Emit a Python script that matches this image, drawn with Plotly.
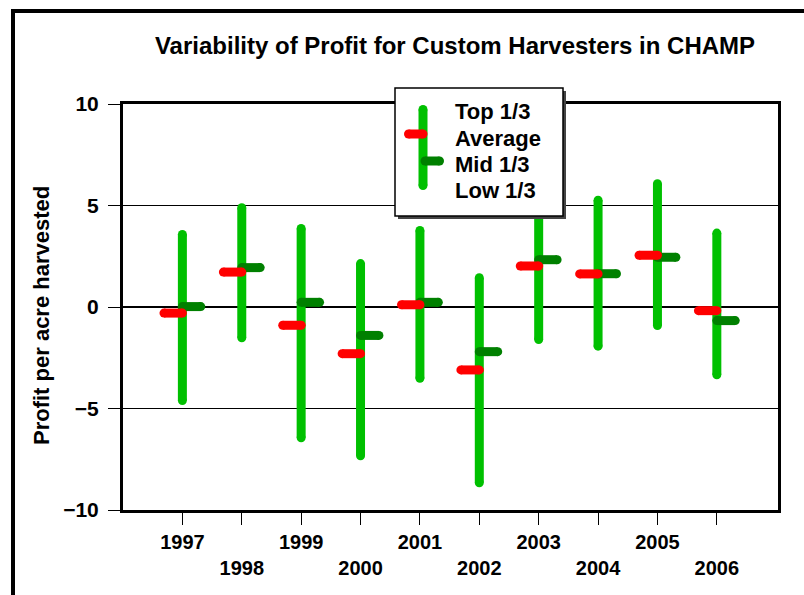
import plotly.graph_objects as go

# ---------------- data ----------------
years = [1997, 1998, 1999, 2000, 2001, 2002, 2003, 2004, 2005, 2006]
year_labels = ["1997", "1998", "1999", "2000", "2001", "2002", "2003", "2004", "2005", "2006"]
top_third = [3.57, 4.89, 3.87, 2.14, 3.77, 1.44, 5.80, 5.26, 6.07, 3.64]
low_third = [-4.61, -1.52, -6.44, -7.33, -3.51, -8.66, -1.60, -1.93, -0.91, -3.34]
average = [-0.30, 1.72, -0.90, -2.30, 0.11, -3.10, 2.02, 1.63, 2.55, -0.18]
mid_third = [0.02, 1.94, 0.23, -1.40, 0.23, -2.20, 2.33, 1.64, 2.45, -0.67]
y_ticks = [-10, -5, 0, 5, 10]
y_tick_labels = ["\u221210", "\u22125", "0", "5", "10"]

title_text = "Variability of Profit for Custom Harvesters in CHAMP"
y_title = "Profit per acre harvested"
legend_labels = ["Top 1/3", "Average", "Mid 1/3", "Low 1/3"]

# ---------------- style ----------------
FONT = "Liberation Sans, Arial, Helvetica, sans-serif"
GREEN = "#00C000"
DARK_GREEN = "#008000"
RED = "#FF0000"
LW = 9
DASH = 0.31  # half-width of open/close ticks in x units

W, H = 804, 595
ML, MR, MT, MB = 123, 26, 104, 85
PW, PH = W - ML - MR, H - MT - MB


def px_x(px):
    return (px - ML) / PW


def px_y(py):
    return (H - MB - py) / PH


# build segment lists from data
def segs(xs0, xs1, ys0, ys1):
    xx, yy = [], []
    for a, b, c, d in zip(xs0, xs1, ys0, ys1):
        xx += [a, b, None]
        yy += [c, d, None]
    return xx, yy


vx, vy = segs(years, years, low_third, top_third)
mx, my = segs(years, [y + DASH for y in years], mid_third, mid_third)
ax_, ay = segs([y - DASH for y in years], years, average, average)

fig = go.Figure()
for xx, yy, col, name in [(vx, vy, GREEN, "Range"), (mx, my, DARK_GREEN, "Mid 1/3"), (ax_, ay, RED, "Average")]:
    fig.add_trace(go.Scatter(
        x=xx, y=yy, mode="lines+markers", name=name,
        line=dict(color=col, width=LW),
        marker=dict(color=col, size=LW, symbol="circle", line=dict(width=0)),
        connectgaps=False, showlegend=False, hoverinfo="skip",
    ))

ticktext = [lab if i % 2 == 0 else "<br>" + lab for i, lab in enumerate(year_labels)]

fig.update_layout(
    width=W, height=H,
    margin=dict(l=ML, r=MR, t=MT, b=MB, pad=0),
    paper_bgcolor="white", plot_bgcolor="white",
    font=dict(family=FONT, color="black"),
    showlegend=False,
    title=dict(text="<b>" + title_text + "</b>", font=dict(size=24, family=FONT, color="black"),
               x=px_x(455), xref="paper", xanchor="center",
               y=1 - 46 / H, yref="container", yanchor="middle"),
    xaxis=dict(range=[1996, 2007.03], tickmode="array", tickvals=years, ticktext=ticktext,
               ticks="outside", ticklen=12, tickwidth=1, tickcolor="black",
               showline=True, linecolor="black", linewidth=3, mirror=True,
               showgrid=False, zeroline=False,
               tickfont=dict(size=20, family=FONT, color="black", weight="bold"),
               ticklabelstandoff=0),
    yaxis=dict(range=[-10, 10], tickmode="array", tickvals=y_ticks,
               ticktext=y_tick_labels,
               ticks="outside", ticklen=12, tickwidth=1, tickcolor="black",
               showline=True, linecolor="black", linewidth=3, mirror=True,
               showgrid=True, gridcolor="black", gridwidth=1,
               zeroline=True, zerolinecolor="black", zerolinewidth=2,
               tickfont=dict(size=21, family=FONT, color="black", weight="bold"),
               ticklabelstandoff=5),
)

shapes = []
# outer frame (left and top)
shapes.append(dict(type="line", xref="paper", yref="paper", x0=px_x(13), x1=px_x(13), y0=px_y(9), y1=px_y(600),
                   line=dict(color="black", width=4), layer="above"))
shapes.append(dict(type="line", xref="paper", yref="paper", x0=px_x(11), x1=px_x(806), y0=px_y(11), y1=px_y(11),
                   line=dict(color="black", width=4), layer="above"))

# legend box with shadow
bx0, bx1, by0, by1 = 395, 563, 88, 216
shapes.append(dict(type="rect", xref="paper", yref="paper",
                   x0=px_x(bx0 + 3), x1=px_x(bx1 + 3), y0=px_y(by0 + 3), y1=px_y(by1 + 3),
                   fillcolor="#444444", line=dict(width=0), layer="above"))
shapes.append(dict(type="rect", xref="paper", yref="paper",
                   x0=px_x(bx0), x1=px_x(bx1), y0=px_y(by0), y1=px_y(by1),
                   fillcolor="white", line=dict(color="black", width=1.5), layer="above"))


def seg_shape(x0, y0, x1, y1, col):
    out = [dict(type="line", xref="paper", yref="paper", x0=px_x(x0), x1=px_x(x1), y0=px_y(y0), y1=px_y(y1),
                line=dict(color=col, width=LW), layer="above")]
    for (cx, cy) in [(x0, y0), (x1, y1)]:
        out.append(dict(type="circle", xref="paper", yref="paper", xsizemode="pixel", ysizemode="pixel",
                        xanchor=px_x(cx), yanchor=px_y(cy), x0=-LW / 2, x1=LW / 2, y0=-LW / 2, y1=LW / 2,
                        fillcolor=col, line=dict(width=0), layer="above"))
    return out


shapes += seg_shape(423, 109.5, 423, 185.5, GREEN)
shapes += seg_shape(425, 161, 439.5, 161, DARK_GREEN)
shapes += seg_shape(408.5, 134, 423, 134, RED)

fig.update_layout(shapes=shapes)

annotations = []
for i, lab in enumerate(legend_labels):
    annotations.append(dict(text="<b>" + lab + "</b>", xref="paper", yref="paper",
                            x=px_x(453), y=px_y(112 + i * 26.2), xanchor="left", yanchor="middle",
                            showarrow=False, font=dict(size=22, family=FONT, color="black")))
annotations.append(dict(text="<b>" + y_title + "</b>", xref="paper", yref="paper",
                        x=px_x(41), y=px_y(316), xanchor="center", yanchor="middle", textangle=-90,
                        showarrow=False, font=dict(size=22, family=FONT, color="black")))
fig.update_layout(annotations=annotations)

fig.write_html("out.html", config={"displayModeBar": False},
               post_script="document.body.style.margin='0px';document.body.style.padding='0px';")
